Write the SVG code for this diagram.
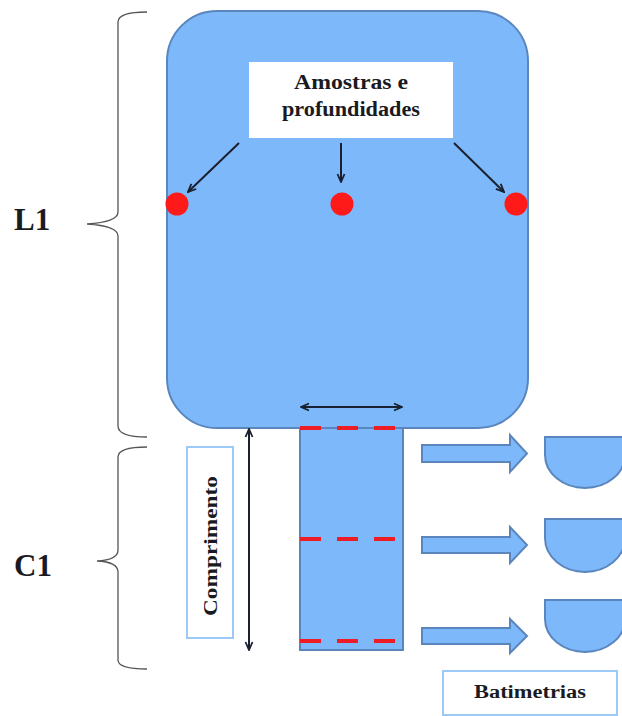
<svg xmlns="http://www.w3.org/2000/svg" width="622" height="716" viewBox="0 0 622 716">
<style>
.shape{fill:#7cb8fa;stroke:#5a86bd;stroke-width:2}
.dot{fill:#ff1a1a}
.dash{stroke:#ee1c25;stroke-width:4;stroke-dasharray:21 16;fill:none}
.conn{stroke:#1a2030;stroke-width:2;fill:none}
.brace{stroke:#555;stroke-width:1.3;fill:none}
.lbl{font-family:"Liberation Serif","Times New Roman",serif;font-weight:bold;fill:#1a1a22}
.box{fill:#fff;stroke:#9cc9f5;stroke-width:2}
</style>
<defs>
<marker id="ah" viewBox="0 0 10 10" refX="9" refY="5" markerWidth="10" markerHeight="10" orient="auto-start-reverse" markerUnits="userSpaceOnUse">
<path d="M1,1.5 L9,5 L1,8.5" fill="none" stroke="#1a2030" stroke-width="1.8"/>
</marker>
</defs>
<rect width="622" height="716" fill="#fff"/>
<g id="braces">
<path class="brace" d="M147,12 Q118,12 118,22 V212 Q118,222 87,224 Q118,226 118,236 V426 Q118,437 147,437"/>
<path class="brace" d="M147,447 Q118,447 118,457 V550 Q118,560 97,561 Q118,562 118,572 V660 Q118,669 147,669"/>
<text class="lbl" x="14" y="230" font-size="31">L1</text>
<text class="lbl" x="14" y="576" font-size="31">C1</text>
</g>
<g id="lake">
<rect class="shape" x="167" y="11" width="361" height="417" rx="50" ry="50"/>
</g>
<g id="channel">
<rect class="shape" x="300" y="428" width="103" height="222"/>
<line class="dash" x1="300" y1="428" x2="403" y2="428"/>
<line class="dash" x1="300" y1="539" x2="403" y2="539"/>
<line class="dash" x1="300" y1="641" x2="403" y2="641"/>
</g>
<g id="samples-label">
<rect x="249" y="62" width="204" height="76" fill="#fff"/>
<text class="lbl" x="351" y="89" font-size="20" text-anchor="middle" textLength="114" lengthAdjust="spacingAndGlyphs">Amostras e</text>
<text class="lbl" x="351" y="116" font-size="20" text-anchor="middle" textLength="138" lengthAdjust="spacingAndGlyphs">profundidades</text>
</g>
<g id="points">
<circle class="dot" cx="177" cy="204" r="11.5"/>
<circle class="dot" cx="342" cy="204" r="11.5"/>
<circle class="dot" cx="516" cy="204" r="11.5"/>
</g>
<g id="comprimento">
<rect class="box" x="187" y="447" width="46" height="191"/>
<text class="lbl" font-size="19" text-anchor="middle" textLength="140" lengthAdjust="spacingAndGlyphs" transform="translate(217,546) rotate(-90)">Comprimento</text>
</g>
<g id="batimetrias">
<rect class="box" x="443" y="671" width="174" height="44"/>
<text class="lbl" x="530" y="698" font-size="18" text-anchor="middle" textLength="112" lengthAdjust="spacingAndGlyphs">Batimetrias</text>
</g>
<g id="sections">
<path class="shape" d="M545,437 H625 V455 A40,33 0 0 1 545,455 Z"/>
<path class="shape" d="M545,519 H625 V538 A40,34 0 0 1 545,538 Z"/>
<path class="shape" d="M545,600 H625 V619 A40,33 0 0 1 545,619 Z"/>
</g>
<g id="connectors">
<line class="conn" x1="239" y1="143" x2="188" y2="192" marker-end="url(#ah)"/>
<line class="conn" x1="341" y1="143" x2="341" y2="182" marker-end="url(#ah)"/>
<line class="conn" x1="454" y1="143" x2="504" y2="192" marker-end="url(#ah)"/>
<line class="conn" x1="301" y1="407" x2="402" y2="407" marker-start="url(#ah)" marker-end="url(#ah)"/>
<line class="conn" x1="249" y1="429" x2="249" y2="650" marker-start="url(#ah)" marker-end="url(#ah)"/>
<path class="shape" d="M422,445 H510 V435 L527,453.5 L510,472 V462 H422 Z"/>
<path class="shape" d="M422,537 H510 V527 L527,545 L510,563 V553 H422 Z"/>
<path class="shape" d="M422,628 H510 V619 L527,636 L510,653 V644 H422 Z"/>
</g>
</svg>
